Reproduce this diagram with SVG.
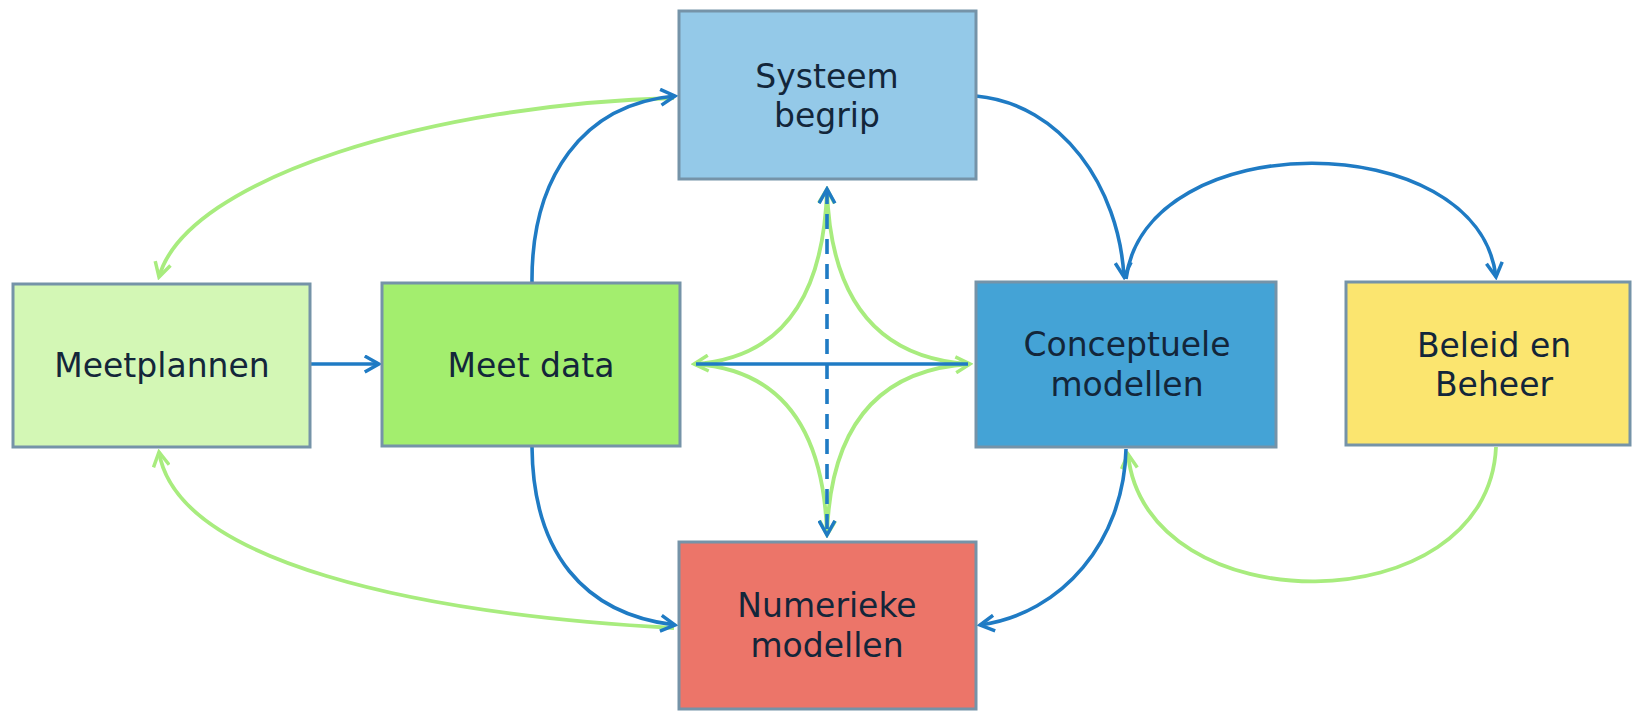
<svg xmlns="http://www.w3.org/2000/svg" width="1632" height="712" viewBox="0 0 1632 712">
<style>
.box{stroke:#7593a8;stroke-width:3}
.lbl{font-family:"DejaVu Sans","Liberation Sans",sans-serif;font-size:33px;fill:#13263a;text-anchor:middle}
.b{fill:none;stroke:#1f7bc4;stroke-width:3.6}
.g{fill:none;stroke:#a8ec7e;stroke-width:3.8}
</style>
<defs>
<marker id="ab" viewBox="0 0 12 12" refX="10" refY="6" markerWidth="19" markerHeight="19" markerUnits="userSpaceOnUse" orient="auto-start-reverse">
<path d="M1,1 L10,6 L1,11" fill="none" stroke="#1f7bc4" stroke-width="2.2"/>
</marker>
<marker id="ag" viewBox="0 0 12 12" refX="10" refY="6" markerWidth="19" markerHeight="19" markerUnits="userSpaceOnUse" orient="auto-start-reverse">
<path d="M1,1 L10,6 L1,11" fill="none" stroke="#a8ec7e" stroke-width="2.2"/>
</marker>
</defs>
<rect width="1632" height="712" fill="#ffffff"/>
<g id="connectors">
<path class="g" d="M674,98 C 437,104 187,177 159,277" marker-end="url(#ag)"/>
<path class="g" d="M674,628 C 416,614 177,562 159,452" marker-end="url(#ag)"/>
<path class="g" d="M1496,447 C 1488,625 1145,625 1128,454" marker-end="url(#ag)"/>
<path class="g" d="M827,189 Q 822,356 694,364" marker-start="url(#ag)" marker-end="url(#ag)"/>
<path class="g" d="M694,364 Q 822,372 827,535"/>
<path class="g" d="M827,535 Q 832,372 970,364" marker-start="url(#ag)" marker-end="url(#ag)"/>
<path class="g" d="M970,364 Q 832,356 827,189"/>
<path class="b" d="M696,364 L968,364"/>
<path class="b" d="M827,189 L827,535" stroke-dasharray="15 10" marker-start="url(#ab)" marker-end="url(#ab)"/>
<path class="b" d="M310,364 L379,364" marker-end="url(#ab)"/>
<path class="b" d="M532,283 C 531,177 583,104 675,96" marker-end="url(#ab)"/>
<path class="b" d="M976,96 C 1062,104 1119,187 1124,277" marker-end="url(#ab)"/>
<path class="b" d="M1126,279 C 1145,125 1478,125 1496,277" marker-end="url(#ab)"/>
<path class="b" d="M532,447 C 533,552 583,614 675,625" marker-end="url(#ab)"/>
<path class="b" d="M1126,449 C 1124,541 1062,614 980,625" marker-end="url(#ab)"/>
</g>
<g id="systeem">
<rect class="box" x="679" y="11" width="297" height="168" fill="#94c9e8"/>
<text class="lbl" x="827" y="88">Systeem</text>
<text class="lbl" x="827" y="127">begrip</text>
</g>
<g id="meetplannen">
<rect class="box" x="13" y="284" width="297" height="163" fill="#d3f7b5"/>
<text class="lbl" x="162" y="377">Meetplannen</text>
</g>
<g id="meetdata">
<rect class="box" x="382" y="283" width="298" height="163" fill="#a3ee6e"/>
<text class="lbl" x="531" y="377">Meet data</text>
</g>
<g id="conceptuele">
<rect class="box" x="976" y="282" width="300" height="165" fill="#44a3d6"/>
<text class="lbl" x="1127" y="356">Conceptuele</text>
<text class="lbl" x="1127" y="396">modellen</text>
</g>
<g id="beleid">
<rect class="box" x="1346" y="282" width="284" height="163" fill="#fbe56f"/>
<text class="lbl" x="1494" y="357">Beleid en</text>
<text class="lbl" x="1494" y="396">Beheer</text>
</g>
<g id="numerieke">
<rect class="box" x="679" y="542" width="297" height="167" fill="#ec7569"/>
<text class="lbl" x="827" y="617">Numerieke</text>
<text class="lbl" x="827" y="657">modellen</text>
</g>
</svg>
